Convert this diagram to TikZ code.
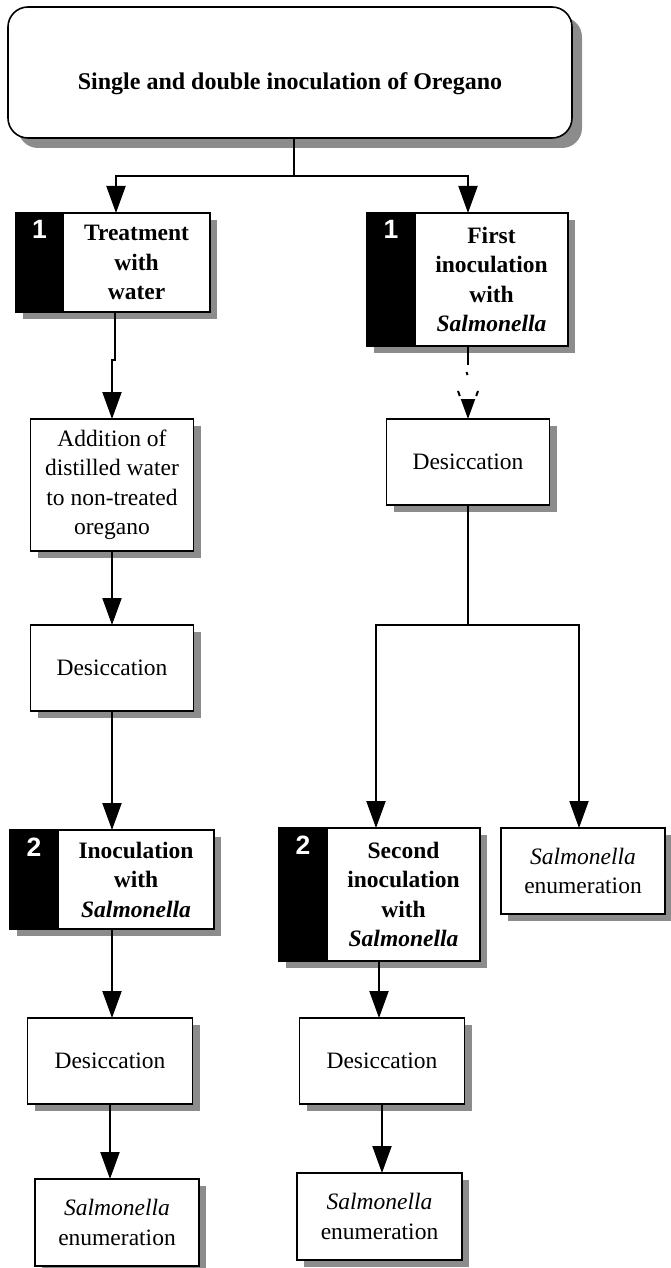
\documentclass[tikz,border=0pt]{standalone}
\usepackage{fontspec}
\setmainfont{Liberation Serif}
\newfontfamily\numfont{Liberation Sans}
\usetikzlibrary{arrows.meta,shadows,calc}
\begin{document}
\begin{tikzpicture}[x=1pt,y=-1pt,
  every node/.style={inner sep=0pt, outer sep=0pt},
  shd/.style={drop shadow={shadow xshift=#1, shadow yshift=-#1, fill=black!45, opacity=1}},
  wh/.style 2 args={minimum width=#1pt, minimum height=#2pt},
  box/.style={draw, line width=1.6pt, fill=white, rectangle, align=center,
     font=\fontsize{23.5}{29.5}\selectfont, shd=7pt},
  bbox/.style={box, font=\fontsize{23.5}{29.5}\selectfont\bfseries},
  tabbox/.style={box, fill=black,
     label={[font=\numfont\bfseries\fontsize{26.5}{26.5}\selectfont, text=white, anchor=north, yshift=-7.5pt]north:#1}},
  titlebox/.style={draw, line width=1.6pt, fill=white, rounded corners=20pt, align=center,
     font=\fontsize{24}{29.5}\selectfont\bfseries, shd=10pt},
  ln/.style={line width=2pt},
  arr/.style={ln, -{Triangle[length=27pt,width=19pt]}}
]
\useasboundingbox (0,0) rectangle (670,1268);

% title
\node[titlebox, wh={564}{131}, text height=39pt, text depth=5pt] (top) at (290,72.5) {Single and double inoculation of Oregano};

% left column
\node[tabbox=1, wh={47}{99}] (tabL1) at (39.5,262.5) {};
\node[bbox, wh={147}{99}] (bodyL1) at (136.5,262.5) {Treatment\\with\\water};
\node[box, wh={163}{132}] (add) at (112,485) {Addition of\\distilled water\\to non-treated\\oregano};
\node[box, wh={163}{86}] (desL1) at (112,668) {Desiccation};
\node[tabbox=2, wh={48}{99}] (tabL2) at (34,879.5) {};
\node[bbox, wh={156}{99}] (bodyL2) at (136,879.5) {Inoculation\\with\\\textit{Salmonella}};
\node[box, wh={165}{86}] (desL2) at (110,1061) {Desiccation};
\node[box, wh={164}{87}] (enumL) at (117,1222.5) {\textit{Salmonella}\\enumeration};

% right column
\node[tabbox=1, wh={48}{133}] (tabR1) at (391,279.5) {};
\node[bbox, wh={153}{133}] (bodyR1) at (491.5,279.5) {First\\inoculation\\with\\\textit{Salmonella}};
\node[box, wh={163}{86}] (desR1) at (468,462) {Desiccation};
\node[tabbox=2, wh={48}{133}] (tabR2) at (303,894.5) {};
\node[bbox, wh={153}{133}] (bodyR2) at (403.5,894.5) {Second\\inoculation\\with\\\textit{Salmonella}};
\node[box, wh={164}{86}] (enumR1) at (583,871) {\textit{Salmonella}\\enumeration};
\node[box, wh={165}{86}] (desR2) at (382,1061) {Desiccation};
\node[box, wh={165}{87}] (enumR2) at (379.5,1216.5) {\textit{Salmonella}\\enumeration};

% connectors
\coordinate (s1) at ($(top.south)+(4,0)$);
\coordinate (j1) at ($(s1)+(0,38)$);
\draw[ln] (s1) -- (j1);
\draw[arr] (j1) -| ($(tabL1.north west)!.5!(bodyL1.north east)+(3,0)$);
\draw[arr] (j1) -| ($(tabR1.north west)!.5!(bodyR1.north east)+(0.5,0)$);

\coordinate (L1b) at ($(tabL1.south west)!.5!(bodyL1.south east)+(2,0)$);
\draw[arr] (L1b) -- ($(L1b)+(0,48)$) -| (add.north);
\draw[arr] (add.south) -- (desL1.north);
\draw[arr] (desL1.south) -- (desL1.south |- tabL2.north);
\coordinate (L2b) at ($(tabL2.south west)!.5!(bodyL2.south east)$);
\draw[arr] (L2b) -- (L2b |- desL2.north);
\draw[arr] (desL2.south) -- (desL2.south |- enumL.north);

% broken (dashed) connector into the right desiccation box
\coordinate (R1b) at ($(tabR1.south west)!.5!(bodyR1.south east)+(0.5,0)$);
\coordinate (R1t) at (R1b |- desR1.north);
\draw[ln, line width=2.4pt] (R1b) -- ($(R1b)+(0,19)$);
\draw[ln] ($(R1b)+(-1.5,26)$) -- ($(R1b)+(-0.5,29)$);
\draw[ln] ($(R1t)+(-10,-28)$) -- ($(R1t)+(-8.2,-23)$);
\draw[ln] ($(R1t)+(10,-28)$) -- ($(R1t)+(8.2,-23)$);
\draw[ln, -{Triangle[length=20pt,width=14pt]}] ($(R1t)+(0,-20.5)$) -- (R1t);

\coordinate (j2) at ($(desR1.south)+(0,120)$);
\draw[ln] (desR1.south) -- (j2);
\draw[arr] (j2) -| ($(tabR2.north west)!.5!(bodyR2.north east)+(-3.5,0)$);
\draw[arr] (j2) -| ($(enumR1.north)+(-4,0)$);
\coordinate (R2b) at ($(tabR2.south west)!.5!(bodyR2.south east)+(-0.5,0)$);
\draw[arr] (R2b) -- (R2b |- desR2.north);
\draw[arr] (desR2.south) -- (desR2.south |- enumR2.north);
\end{tikzpicture}
\end{document}
